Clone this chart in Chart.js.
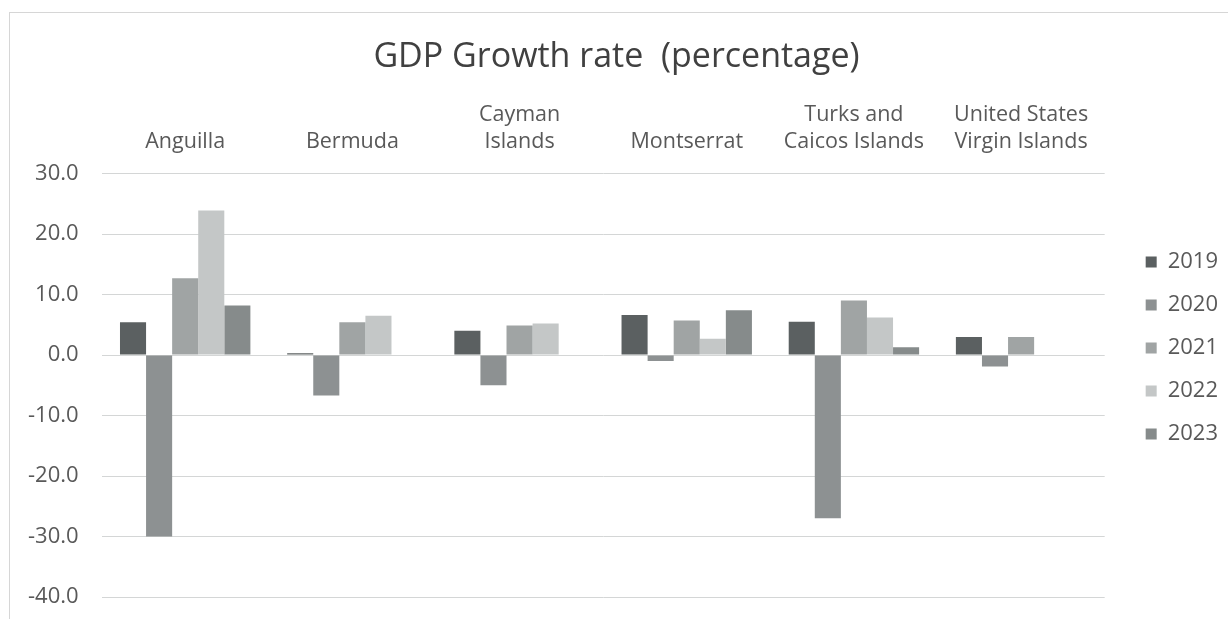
<!DOCTYPE html>
<html>
<head>
<meta charset="utf-8">
<script src="https://cdn.jsdelivr.net/npm/chart.js@4/dist/chart.umd.min.js"></script>
<style>
  html, body { margin: 0; padding: 0; background: #ffffff; }
  #frame { position: absolute; left: 9px; top: 12px; width: 1230px; height: 620px; border: 1px solid #d6d6d6; }
  #wrap { position: absolute; left: 0; top: 0; width: 1228px; height: 619px; }
</style>
</head>
<body>
<div id="frame"></div>
<div id="wrap"><canvas id="c" width="1228" height="619"></canvas></div>
<script>
const categories = [
  'Anguilla',
  'Bermuda',
  ['Cayman', 'Islands'],
  'Montserrat',
  ['Turks and', 'Caicos Islands'],
  ['United States', 'Virgin Islands']
];
const seriesNames = ['2019', '2020', '2021', '2022', '2023'];
const v2019 = [5.4, 0.3, 4.0, 6.6, 5.5, 3.0];
const v2020 = [-30.0, -6.7, -5.0, -1.0, -27.0, -1.9];
const v2021 = [12.7, 5.4, 4.9, 5.7, 9.0, 3.0];
const v2022 = [23.9, 6.5, 5.2, 2.7, 6.2, null];
const v2023 = [8.2, null, null, 7.4, 1.3, null];
const yTicks = [-40, -30, -20, -10, 0, 10, 20, 30];
const colors = ['#5b6061', '#8d9192', '#a0a4a4', '#c4c7c7', '#868b8b'];

const FONT = "'Open Sans', 'Liberation Sans', sans-serif";
const seriesValues = [v2019, v2020, v2021, v2022, v2023];

new Chart(document.getElementById('c'), {
  type: 'bar',
  data: {
    labels: categories,
    datasets: seriesNames.map((n, i) => ({
      label: n,
      data: seriesValues[i],
      backgroundColor: colors[i],
      borderWidth: 0,
      categoryPercentage: 0.78,
      barPercentage: 1.0,
      yAxisID: 'y'
    }))
  },
  options: {
    responsive: false,
    animation: false,
    layout: { padding: { left: 5, right: 0, top: 10, bottom: 22 } },
    plugins: {
      title: {
        display: true,
        text: 'GDP Growth rate  (percentage)',
        color: '#404040',
        font: { family: FONT, size: 34, weight: 'normal' },
        padding: { top: 27, bottom: 6 }
      },
      legend: {
        display: true,
        position: 'right',
        align: 'center',
        title: {
          display: true,
          text: ' ',
          font: { family: FONT, size: 10, lineHeight: 1 },
          padding: { top: 79, bottom: 0 }
        },
        labels: {
          boxWidth: 11,
          boxHeight: 11,
          padding: 21,
          color: '#595959',
          font: { family: FONT, size: 22 }
        }
      },
      tooltip: { enabled: false }
    },
    scales: {
      x: {
        position: 'top',
        grid: { display: false, drawTicks: false },
        border: { display: false },
        ticks: {
          color: '#595959',
          font: { family: FONT, size: 21.5, lineHeight: 1.25 },
          padding: 18,
          maxRotation: 0,
          autoSkip: false
        }
      },
      y: {
        min: Math.min(...yTicks),
        max: Math.max(...yTicks),
        afterBuildTicks: s => { s.ticks = yTicks.map(v => ({ value: v })); },
        afterFit: s => { s.paddingTop = 0; s.paddingBottom = 0; },
        grid: { color: '#d4d6d6', lineWidth: 1, drawTicks: false },
        border: { display: false },
        ticks: {
          color: '#595959',
          font: { family: FONT, size: 22 },
          padding: 23,
          callback: v => Number(v).toFixed(1)
        }
      },
      yGap: {
        position: 'right',
        display: true,
        grid: { display: false, drawTicks: false },
        border: { display: false },
        ticks: { display: false },
        afterFit: s => { s.width = 20; }
      }
    }
  }
});
</script>
</body>
</html>
